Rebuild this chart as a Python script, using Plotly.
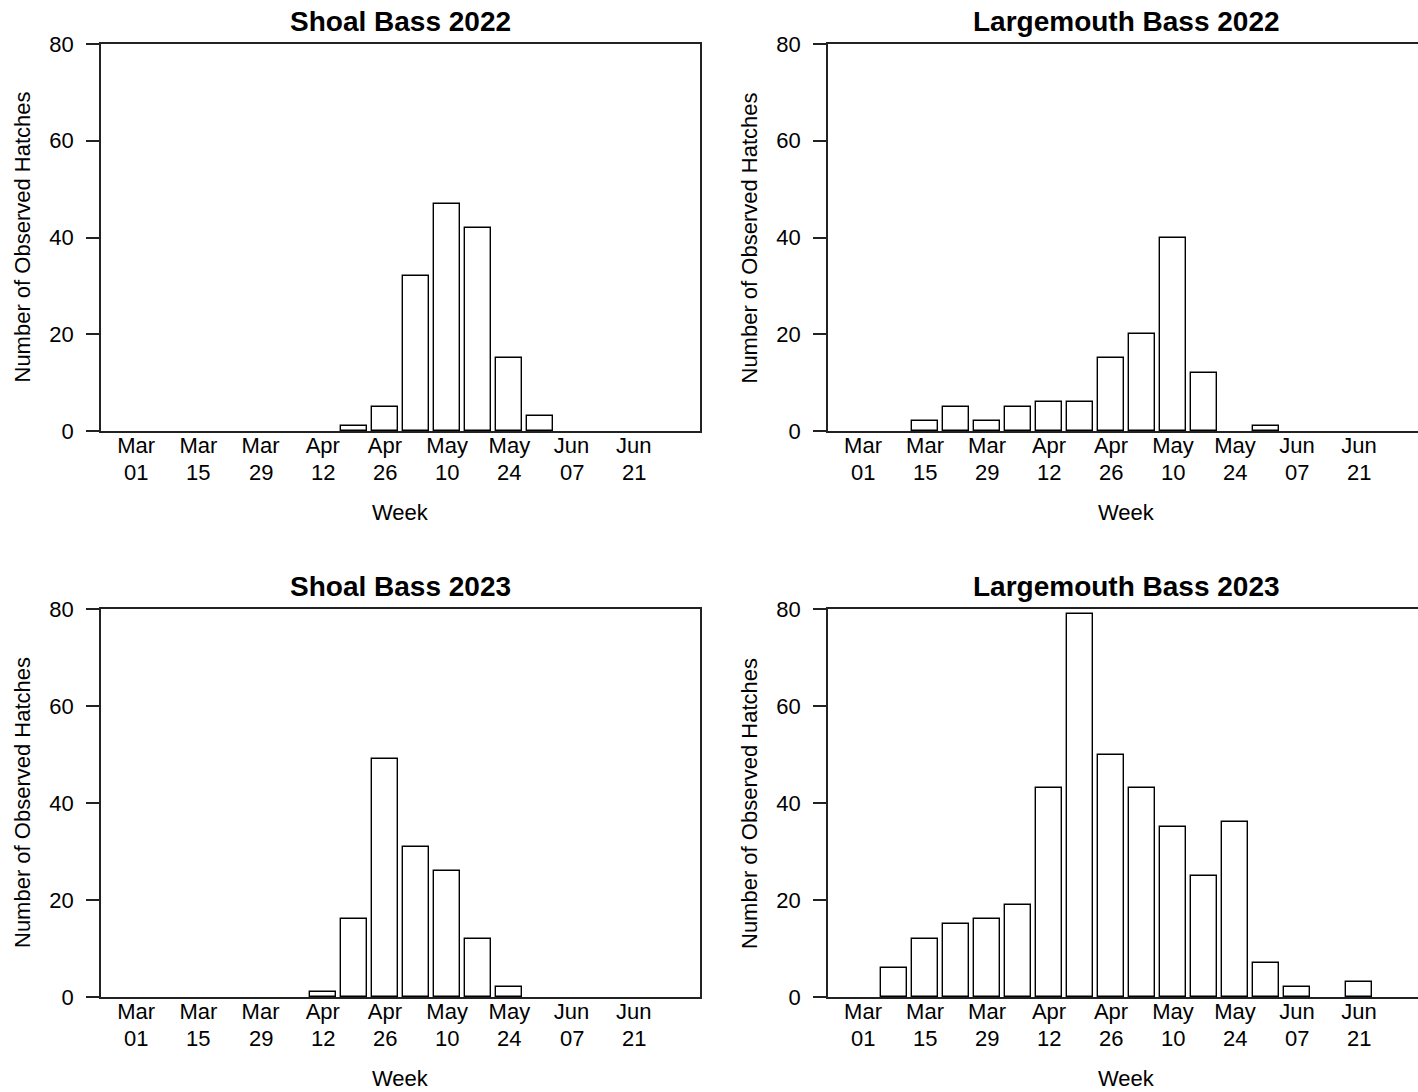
import plotly.graph_objects as go

# ---- data ----
week_index = list(range(18))  # weekly bins starting Mar 01
tick_vals = [0, 2, 4, 6, 8, 10, 12, 14, 16]
tick_months = ["Mar", "Mar", "Mar", "Apr", "Apr", "May", "May", "Jun", "Jun"]
tick_days = ["01", "15", "29", "12", "26", "10", "24", "07", "21"]
y_ticks = [0, 20, 40, 60, 80]

shoal_2022 = [0, 0, 0, 0, 0, 0, 0, 1, 5, 32, 47, 42, 15, 3, 0, 0, 0, 0]
largemouth_2022 = [0, 0, 2, 5, 2, 5, 6, 6, 15, 20, 40, 12, 0, 1, 0, 0, 0, 0]
shoal_2023 = [0, 0, 0, 0, 0, 0, 1, 16, 49, 31, 26, 12, 2, 0, 0, 0, 0, 0]
largemouth_2023 = [0, 6, 12, 15, 16, 19, 43, 79, 50, 43, 35, 25, 36, 7, 2, 0, 3, 0]

titles = ["Shoal Bass 2022", "Largemouth Bass 2022", "Shoal Bass 2023", "Largemouth Bass 2023"]
series = [shoal_2022, largemouth_2022, shoal_2023, largemouth_2023]

W, H = 1418, 1092
FONT = "Liberation Sans, Arial, sans-serif"
FS = 22

def px(x):
    return x / W

def py(y):
    return 1 - y / H

# panel pixel boxes: (left, right, top, bottom)
panels = [
    (101, 700, 44, 431),
    (828, 1425, 44, 431),
    (101, 700, 609, 997),
    (828, 1425, 609, 997),
]

fig = go.Figure()
annotations = []
for i, (vals, title, (l, r, t, b)) in enumerate(zip(series, titles, panels)):
    n = i + 1
    xa = "x" if n == 1 else f"x{n}"
    ya = "y" if n == 1 else f"y{n}"
    fig.add_trace(go.Bar(
        x=week_index, y=vals, xaxis=xa, yaxis=ya, width=1 / 1.2,
        marker=dict(color="white",
                    line=dict(color="black", width=[0 if v == 0 else 1.4 for v in vals])),
        showlegend=False, hoverinfo="x+y",
    ))
    x0, x1 = -1.13, 18.13
    scale = (x1 - x0) / (r - l)
    rr = min(r, W)
    x1c = x0 + (rr - l) * scale
    clipped = r > W
    xkey = "xaxis" if n == 1 else f"xaxis{n}"
    ykey = "yaxis" if n == 1 else f"yaxis{n}"
    fig.layout[xkey] = dict(
        domain=[px(l), px(rr)], range=[x0, x1c], anchor=ya, automargin=False,
        tickmode="array", tickvals=tick_vals, ticktext=tick_months,
        ticks="", showgrid=False, zeroline=False,
        showline=True, mirror=True, linecolor="#222", linewidth=1.5,
        tickfont=dict(family=FONT, size=FS, color="black"),
        ticklabelstandoff=-6,
    )
    fig.layout[ykey] = dict(
        domain=[py(b), py(t)], range=[0, 80], anchor=xa, automargin=False,
        tickmode="array", tickvals=y_ticks,
        ticks="outside", ticklen=13, tickwidth=1.5, tickcolor="#222",
        showgrid=False, zeroline=False,
        showline=True, mirror=(not clipped), linecolor="#222", linewidth=1.5,
        tickfont=dict(family=FONT, size=FS, color="black"),
        ticklabelstandoff=8,
    )
    # second line of the date tick labels (day of month)
    for tv, day in zip(tick_vals, tick_days):
        annotations.append(dict(
            text=day, x=tv, y=py(b + 41), xref=xa, yref="paper",
            xanchor="center", yanchor="middle", showarrow=False,
            font=dict(family=FONT, size=FS, color="black"),
        ))
    cx = (l + r) / 2
    annotations.append(dict(
        text=f"<b>{title}</b>", x=px(cx), y=py(t - 23), xref="paper", yref="paper",
        xanchor="center", yanchor="middle", showarrow=False,
        font=dict(family=FONT, size=28, color="black"),
    ))
    annotations.append(dict(
        text="Week", x=px(cx), y=py(b + 81), xref="paper", yref="paper",
        xanchor="center", yanchor="middle", showarrow=False,
        font=dict(family=FONT, size=FS, color="black"),
    ))
    annotations.append(dict(
        text="Number of Observed Hatches", x=px(l - 79), y=py((t + b) / 2),
        xref="paper", yref="paper", xanchor="center", yanchor="middle",
        textangle=-90, showarrow=False,
        font=dict(family=FONT, size=FS, color="black"),
    ))

fig.update_layout(
    width=W, height=H, margin=dict(l=0, r=0, t=0, b=0, pad=0, autoexpand=False),
    paper_bgcolor="white", plot_bgcolor="white",
    annotations=annotations, bargap=0,
)

fig.write_html("out.html", config={"displayModeBar": False},
               post_script="document.body.style.margin='0';")
